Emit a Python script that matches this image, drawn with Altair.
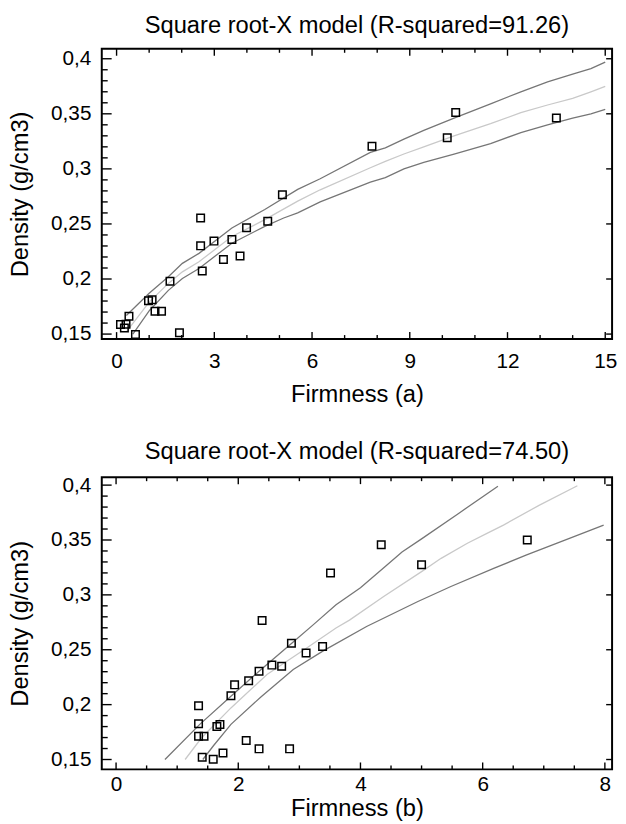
import altair as alt
import pandas as pd

FONT = "Liberation Sans"

# ---------------- data: top panel (Firmness a) ----------------
top_x = [0.12, 0.24, 0.29, 0.38, 0.58, 0.98, 1.09, 1.18, 1.38, 1.64, 1.93, 2.58, 2.58,
         2.63, 2.99, 3.28, 3.54, 3.79, 3.99, 4.64, 5.09, 7.84, 10.15, 10.41, 13.5]
top_y = [0.1586, 0.1555, 0.159, 0.1662, 0.1497, 0.1803, 0.1812, 0.1708, 0.1708, 0.198,
         0.1512, 0.2554, 0.2301, 0.2072, 0.2344, 0.2178, 0.2359, 0.2209, 0.2466, 0.2524,
         0.2765, 0.3205, 0.3282, 0.3511, 0.3462]

top_upper_x = [0.3, 1.0, 1.59, 2.02, 2.53, 3.54, 4.55, 5.56, 6.25, 7.79, 8.25, 8.82, 9.43,
               10.36, 11.48, 12.41, 13.23, 14.0, 14.56, 15.0]
top_upper_y = [0.1668, 0.187, 0.202, 0.2142, 0.2233, 0.2463, 0.2631, 0.2814, 0.291, 0.315,
               0.319, 0.327, 0.335, 0.346, 0.359, 0.370, 0.379, 0.386, 0.391, 0.397]
top_fit_x = [0.3, 1.0, 1.59, 2.02, 2.53, 3.54, 4.55, 5.56, 6.25, 7.79, 8.25, 8.82, 9.43,
             10.36, 11.48, 12.41, 13.23, 14.0, 14.56, 15.0]
top_fit_y = [0.152, 0.179, 0.196, 0.2065, 0.2157, 0.2386, 0.2539, 0.2707, 0.281, 0.301,
             0.3068, 0.3135, 0.320, 0.330, 0.341, 0.351, 0.358, 0.364, 0.370, 0.375]
top_lower_x = [0.5, 1.01, 1.59, 2.02, 2.53, 3.54, 4.55, 5.13, 5.56, 6.25, 7.79, 8.25, 8.82,
               9.43, 10.36, 11.48, 12.41, 13.23, 14.0, 14.56, 15.0]
top_lower_y = [0.150, 0.1714, 0.1897, 0.2004, 0.2096, 0.2325, 0.2478, 0.2554, 0.26, 0.270,
               0.288, 0.292, 0.300, 0.306, 0.3135, 0.323, 0.333, 0.340, 0.346, 0.350, 0.354]

# ---------------- data: bottom panel (Firmness b) ----------------
bot_x = [6.73, 4.34, 5.0, 3.51, 2.39, 2.87, 3.11, 3.38, 2.55, 2.71, 2.34, 2.17, 1.94,
         1.88, 1.35, 1.35, 1.35, 1.44, 1.65, 1.70, 2.13, 2.34, 2.84, 1.41, 1.59, 1.75]
bot_y = [0.350, 0.3456, 0.3275, 0.320, 0.2767, 0.256, 0.247, 0.253, 0.236, 0.235, 0.2305,
         0.2218, 0.218, 0.208, 0.199, 0.1825, 0.1712, 0.1712, 0.180, 0.1818, 0.1673, 0.1597,
         0.1597, 0.152, 0.1503, 0.156]

bot_upper_x = [0.8, 1.37, 1.88, 2.34, 2.88, 3.23, 3.6, 4.0, 4.41, 4.68, 5.0, 5.6, 6.25]
bot_upper_y = [0.150, 0.182, 0.2077, 0.2304, 0.2561, 0.2729, 0.291, 0.3065, 0.326, 0.339,
               0.351, 0.374, 0.399]
bot_fit_x = [1.13, 1.40, 1.88, 2.47, 3.12, 3.6, 3.82, 4.38, 5.0, 5.32, 5.75, 6.07, 6.34,
             6.93, 7.55]
bot_fit_y = [0.150, 0.1698, 0.197, 0.2274, 0.2516, 0.2698, 0.277, 0.2985, 0.3212, 0.3333,
             0.347, 0.356, 0.3636, 0.3818, 0.3994]
bot_lower_x = [1.42, 1.6, 1.88, 2.37, 2.9, 3.39, 4.1, 4.94, 5.48, 6.18, 6.72, 7.42, 7.98]
bot_lower_y = [0.150, 0.163, 0.182, 0.207, 0.232, 0.249, 0.2712, 0.294, 0.3076, 0.3242,
               0.3364, 0.3515, 0.3636]

# ---------------- tick values ----------------
y_major = [0.15, 0.2, 0.25, 0.3, 0.35, 0.4]
y_minor = [0.16, 0.17, 0.18, 0.19, 0.21, 0.22, 0.23, 0.24, 0.26, 0.27, 0.28, 0.29,
           0.31, 0.32, 0.33, 0.34, 0.36, 0.37, 0.38, 0.39]
top_x_major = [0, 3, 6, 9, 12, 15]
top_x_minor = [1, 2, 4, 5, 7, 8, 10, 11, 13, 14]
bot_x_major = [0, 2, 4, 6, 8]
bot_x_minor = [0.5, 1, 1.5, 2.5, 3, 3.5, 4.5, 5, 5.5, 6.5, 7, 7.5]

titles = ["Square root-X model (R-squared=91.26)", "Square root-X model (R-squared=74.50)"]
x_titles = ["Firmness (a)", "Firmness (b)"]
y_title = "Density (g/cm3)"

W = 517
DARK = "#767676"
LIGHT = "#c9c9c9"


def panel(px, py, ux, uy, fx, fy, lx, ly, xdom, ydom, H, xmaj, xmin, title, xtitle,
          lab_pad, tit_pad):
    xs = alt.Scale(domain=xdom, nice=False, zero=False)
    ys = alt.Scale(domain=ydom, nice=False, zero=False)
    xax = alt.Axis(values=xmaj, format="d", title=xtitle, domain=False, ticks=False, grid=False,
                   labelFont=FONT, labelFontSize=21, labelColor="black", labelPadding=lab_pad,
                   titleFont=FONT, titleFontSize=24, titleFontWeight="normal",
                   titleColor="black", titlePadding=tit_pad)
    yax = alt.Axis(values=y_major, title=y_title, domain=False, ticks=False, grid=False,
                   labelExpr="replace(format(datum.value, '.2~f'), '.', ',')",
                   labelFont=FONT, labelFontSize=21, labelColor="black", labelPadding=11,
                   titleFont=FONT, titleFontSize=24, titleFontWeight="normal",
                   titleColor="black", titlePadding=18)

    pts = pd.DataFrame({"x": px, "y": py})
    base_pts = alt.Chart(pts).mark_point(shape="square", filled=False, color="black",
                                         size=58, strokeWidth=1.5, opacity=1).encode(
        x=alt.X("x:Q", scale=xs, axis=xax), y=alt.Y("y:Q", scale=ys, axis=yax))

    def line(xv, yv, col):
        d = pd.DataFrame({"x": xv, "y": yv})
        return alt.Chart(d).mark_line(color=col, strokeWidth=1.3, clip=True).encode(
            x=alt.X("x:Q", scale=xs), y=alt.Y("y:Q", scale=ys))

    def yt(vals, x0, x1):
        return alt.Chart(pd.DataFrame({"v": vals})).mark_rule(color="black", strokeWidth=1.4).encode(
            y=alt.Y("v:Q", scale=ys), x=alt.value(x0), x2=alt.value(x1))

    def xt(vals, y0, y1):
        return alt.Chart(pd.DataFrame({"v": vals})).mark_rule(color="black", strokeWidth=1.4).encode(
            x=alt.X("v:Q", scale=xs), y=alt.value(y0), y2=alt.value(y1))

    layers = [
        line(ux, uy, DARK), line(lx, ly, DARK), line(fx, fy, LIGHT),
        yt(y_major, 0, 10), yt(y_minor, 0, 6), yt(y_major, W - 6, W),
        xt(xmaj, 0, 7), xt(xmin, 0, 4), xt(xmaj, H, H - 7), xt(xmin, H, H - 4),
        base_pts,
    ]
    return alt.layer(*layers).properties(
        width=W, height=H,
        view=alt.ViewBackground(stroke="black", strokeWidth=2, fill="white"),
        title=alt.TitleParams(title, font=FONT, fontSize=24, fontWeight="normal",
                              color="black", anchor="middle", frame="group", offset=10),
    )


top = panel(top_x, top_y, top_upper_x, top_upper_y, top_fit_x, top_fit_y,
            top_lower_x, top_lower_y, [-0.4545, 15.21], [0.1455, 0.409], 294,
            top_x_major, top_x_minor, titles[0], x_titles[0], 12, 11)
bot = panel(bot_x, bot_y, bot_upper_x, bot_upper_y, bot_fit_x, bot_fit_y,
            bot_lower_x, bot_lower_y, [-0.234, 8.118], [0.141, 0.4072], 296,
            bot_x_major, bot_x_minor, titles[1], x_titles[1], 4, 3)

chart = alt.vconcat(top, bot, spacing=33).properties(
    padding={"left": 0, "top": 0, "right": 0, "bottom": 0},
    background="white",
).configure_view(stroke="black", strokeWidth=2)

chart.save("out.html", embed_options={"renderer": "svg", "actions": False})
